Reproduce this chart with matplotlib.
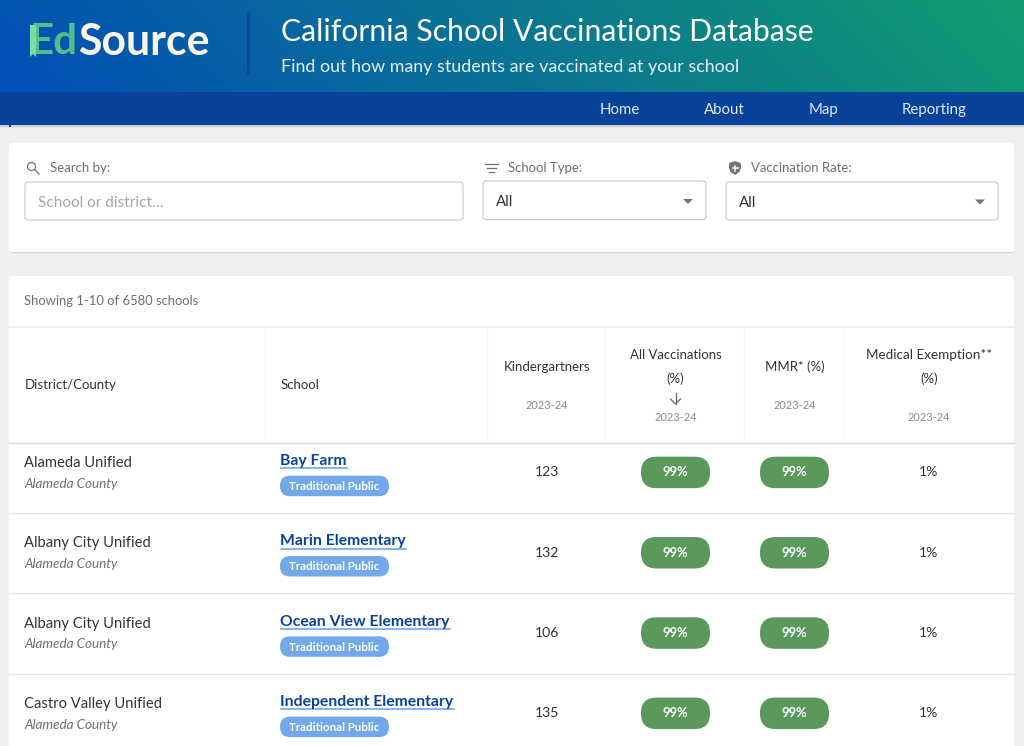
import matplotlib
matplotlib.use('Agg')
import matplotlib.pyplot as plt
import numpy as np
from matplotlib.patches import FancyBboxPatch, Rectangle, Circle, Polygon

plt.rcParams['font.family'] = ['Lato', 'DejaVu Sans']

districts = ['Alameda Unified', 'Albany City Unified', 'Albany City Unified', 'Castro Valley Unified']
counties = ['Alameda County', 'Alameda County', 'Alameda County', 'Alameda County']
schools = ['Bay Farm', 'Marin Elementary', 'Ocean View Elementary', 'Independent Elementary']
school_types = ['Traditional Public', 'Traditional Public', 'Traditional Public', 'Traditional Public']
kindergartners = [123, 132, 106, 135]
all_vacc = [99, 99, 99, 99]
mmr = [99, 99, 99, 99]
med_exempt = [1, 1, 1, 1]
nav_items = ['Home', 'About', 'Map', 'Reporting']
nav_x = [620, 724.5, 823, 934]

W, H = 1024, 746
fig = plt.figure(figsize=(W / 100, H / 100), dpi=100, facecolor='#f0f0f0')
ax = fig.add_axes([0, 0, 1, 1])
ax.set_xlim(0, W)
ax.set_ylim(H, 0)
ax.axis('off')


def px(size):
    return size * 0.72


def txt(x, y, s, size, color='#333333', ha='left', **kw):
    # va center sits a bit high for Lato, so nudge down
    return ax.text(x, y + 0.8, s, fontsize=px(size), color=color, ha=ha, va='center', **kw)


def rbox(x0, y0, x1, y1, r, fc, ec='none', lw=0, z=2):
    p = FancyBboxPatch((x0 + r, y0 + r), x1 - x0 - 2 * r, y1 - y0 - 2 * r,
                       boxstyle=f'round,pad={r},rounding_size={r}', fc=fc, ec=ec, lw=lw, zorder=z)
    ax.add_patch(p)
    return p


# header gradient, slightly diagonal
gx, gy = np.meshgrid(np.linspace(0, 1, 256), np.linspace(0, 1, 24))
t = np.clip(gx * 0.95 + (0.5 - gy) * 0.08 + 0.02, 0, 1)
c0 = np.array([0x03, 0x4f, 0xb6]) / 255
c1 = np.array([0x12, 0x9b, 0x70]) / 255
grad = c0[None, None, :] * (1 - t[..., None]) + c1[None, None, :] * t[..., None]
ax.imshow(grad, extent=(0, W, 92, 0), aspect='auto', zorder=1)
ax.set_xlim(0, W)
ax.set_ylim(H, 0)

# nav bar with soft shadow
ax.add_patch(Rectangle((0, 125), W, 1.5, fc='#cfcfcf', ec='none', zorder=1))
ax.add_patch(Rectangle((0, 126.5), W, 1.5, fc='#e4e4e4', ec='none', zorder=1))
ax.add_patch(Rectangle((0, 92), W, 33, fc='#08429a', ec='none', zorder=2))
ax.add_patch(Rectangle((9, 125), 2, 2, fc='#0a3a80', ec='none', zorder=2))
for name, x in zip(nav_items, nav_x):
    txt(x, 109.5, name, 15, color='#dfe9f5', ha='center', zorder=3)

# logo and titles
txt(30, 41.5, 'Ed', 42, color='#54bd8c', weight='bold', zorder=3)
txt(78, 41.5, 'Source', 42.8, color='#fbf6ea', weight='bold', zorder=3)
ax.add_patch(Rectangle((30, 25), 6, 28, fc='#7adba6', ec='none', zorder=4))
ax.add_patch(Polygon([(30, 52), (36, 52), (36, 57), (33, 54), (30, 57)], fc='#7adba6', ec='none', zorder=4))
ax.add_patch(Rectangle((247, 12), 3, 63, fc='#0a469c', ec='none', zorder=3))
txt(281, 31, 'California School Vaccinations Database', 30.1, color='white', zorder=3)
txt(281, 66.5, 'Find out how many students are vaccinated at your school', 17.9, color='#e6f0f5', zorder=3)

# filter card
rbox(10, 144, 1013, 253.5, 4, '#d9d9d9', z=1)
rbox(9, 143, 1014, 252, 4, 'white')
ax.add_patch(Circle((31.5, 166.5), 4, fc='none', ec='#757575', lw=0.9, zorder=3))
ax.plot([34.5, 39], [169.5, 174], color='#757575', lw=1, zorder=3)
txt(50, 167.5, 'Search by:', 13.2, color='#6f6f6f', zorder=3)
rbox(25, 182, 463, 220, 3, 'white', ec='#c4c4c4', lw=0.75, z=3)
txt(38, 202, 'School or district…', 15.4, color='#a6a6a6', zorder=4)

for y, x0, x1 in [(164, 485, 498), (168, 487, 496), (172, 489, 494)]:
    ax.plot([x0, x1], [y, y], color='#757575', lw=0.9, zorder=3)
txt(508, 167.5, 'School Type:', 13.1, color='#6f6f6f', zorder=3)
rbox(483, 181, 706, 219.5, 3, 'white', ec='#c4c4c4', lw=0.75, z=3)
txt(496, 201, 'All', 15, color='#333333', zorder=4)
ax.add_patch(Polygon([(683, 199), (693, 199), (688, 204)], fc='#757575', ec='none', zorder=4))

ax.add_patch(Polygon([(735, 161), (741, 163.2), (741, 168), (739.5, 172), (735, 175),
                      (730.5, 172), (729, 168), (729, 163.2)], fc='#757575', ec='none', zorder=3))
ax.plot([732.5, 737.5], [168, 168], color='white', lw=1.1, zorder=4)
ax.plot([735, 735], [165.5, 170.5], color='white', lw=1.1, zorder=4)
txt(751, 167.5, 'Vaccination Rate:', 13.1, color='#6f6f6f', zorder=3)
rbox(726, 182, 998, 220, 3, 'white', ec='#c4c4c4', lw=0.75, z=3)
txt(739, 202, 'All', 15, color='#333333', zorder=4)
ax.add_patch(Polygon([(975, 199.5), (985, 199.5), (980, 204.5)], fc='#757575', ec='none', zorder=4))

# table card
rbox(9, 276, 1014, 780, 4, 'white')
txt(24.5, 300.5, 'Showing 1-10 of 6580 schools', 13, color='#6f6f6f', zorder=3)
ax.plot([9, 1014], [327, 327], color='#ececec', lw=1.2, zorder=3)
ax.plot([9, 1014], [442.5, 442.5], color='#dcdcdc', lw=1, zorder=3)
for x in [264.5, 487, 605, 744, 843]:
    ax.plot([x, x], [328, 442], color='#f6f6f6', lw=0.8, zorder=3)

txt(24.5, 384.5, 'District/County', 13.2, zorder=3)
txt(281, 384.5, 'School', 13.3, zorder=3)
txt(547, 366, 'Kindergartners', 13.2, ha='center', zorder=3)
txt(547, 405, '2023-24', 11, color='#8a8a8a', ha='center', zorder=3)
txt(675.5, 354.5, 'All Vaccinations', 13.1, ha='center', zorder=3)
txt(675.5, 377.5, '(%)', 13.3, ha='center', zorder=3)
ax.plot([675.5, 675.5], [393, 404], color='#666666', lw=0.9, zorder=3)
ax.plot([670.5, 675.5, 680.5], [399, 404, 399], color='#666666', lw=0.9, zorder=3)
txt(675.5, 416.5, '2023-24', 11, color='#8a8a8a', ha='center', zorder=3)
txt(794.5, 366, 'MMR* (%)', 13.3, ha='center', zorder=3)
txt(794.5, 405, '2023-24', 11, color='#8a8a8a', ha='center', zorder=3)
txt(929, 354.5, 'Medical Exemption**', 13.5, ha='center', zorder=3)
txt(929, 377.5, '(%)', 13.3, ha='center', zorder=3)
txt(929, 416.5, '2023-24', 11, color='#8a8a8a', ha='center', zorder=3)

# rows, the first one is partly scrolled under the sticky header
row_step = 80.3
for i in range(len(schools)):
    top = 432.7 + i * row_step
    if i > 0:
        ax.plot([9, 1014], [top, top], color='#e4e4e4', lw=1, zorder=3)
    txt(24.5, top + 29.6, districts[i], 14.8, zorder=3)
    txt(24.5, top + 50.4, counties[i], 13.5, color='#6f6f6f', style='italic', zorder=3)
    t_s = txt(280.5, top + 27.6, schools[i], 15.8, color='#0a429a', weight='bold', zorder=4)
    fig.canvas.draw()
    bb = t_s.get_window_extent().transformed(ax.transData.inverted())
    ax.plot([bb.x0, bb.x1], [top + 35.5, top + 35.5], color='#6fa8ea', lw=1.2, zorder=3)
    rbox(280, top + 43, 389, top + 63.5, 10, '#73a9ea', z=3)
    txt(334.5, top + 53, school_types[i], 11.5, color='white', ha='center', weight='bold', zorder=4)
    txt(547, top + 38.8, str(kindergartners[i]), 14, ha='center', zorder=3)
    rbox(641, top + 24, 710, top + 55.5, 15.5, '#5a985c', z=3)
    txt(675.5, top + 39, f'{all_vacc[i]}%', 13, color='white', ha='center', weight='bold', zorder=4)
    rbox(760, top + 24, 829, top + 55.5, 15.5, '#5a985c', z=3)
    txt(794.5, top + 39, f'{mmr[i]}%', 13, color='white', ha='center', weight='bold', zorder=4)
    txt(929, top + 38.8, f'{med_exempt[i]}%', 14, ha='center', zorder=3)

fig.savefig('out.png', dpi=100, facecolor=fig.get_facecolor())
